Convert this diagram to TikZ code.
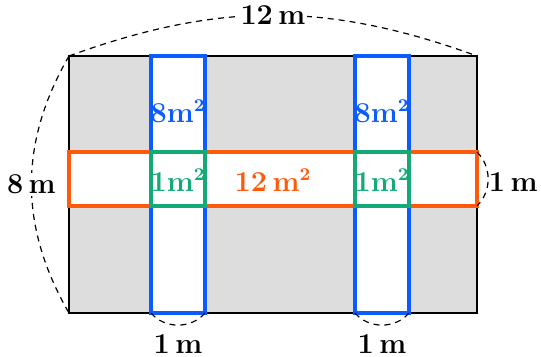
\documentclass[tikz,border=0pt]{standalone}
\usepackage{amsmath}
\begin{document}
\begin{tikzpicture}[x=0.5pt,y=-0.5pt,
  blu/.style={draw=myblue,line width=2pt},
  org/.style={draw=myorange,line width=2pt},
  grn/.style={draw=mygreen,line width=2pt},
  dim/.style={draw=black,dash pattern=on 3pt off 2.5pt,line width=0.6pt},
  lbl/.style={font=\fontsize{13.5}{15}\selectfont\bfseries\boldmath,inner sep=1pt},
  area/.style={font=\fontsize{13.5}{15}\selectfont\bfseries\boldmath,inner sep=0pt}]
\definecolor{myblue}{HTML}{0A5CFF}
\definecolor{myorange}{HTML}{FF5A0A}
\definecolor{mygreen}{HTML}{14AA78}
\definecolor{mygray}{HTML}{DDDDDD}
\useasboundingbox (0,0) rectangle (541,357);
% corners
\coordinate (TL) at (69,56);
\coordinate (TR) at (477,56);
\coordinate (BL) at (69,313);
\coordinate (BR) at (477,313);
\coordinate (OR1) at (477,152);
\coordinate (OR2) at (477,206);
\coordinate (B1a) at (151,313);
\coordinate (B1b) at (205,313);
\coordinate (B2a) at (355,313);
\coordinate (B2b) at (409,313);
% field
\fill[mygray] (TL) rectangle (BR);
\fill[white] (151,56) rectangle (205,313);
\fill[white] (355,56) rectangle (409,313);
\fill[white] (69,152) rectangle (477,206);
\draw[line width=0.75pt] (TL) rectangle (BR);
% strips
\draw[blu] (151,56) rectangle (205,313);
\draw[blu] (355,56) rectangle (409,313);
\draw[org] (69,152) rectangle (477,206);
\draw[grn] (151,152) rectangle (205,206);
\draw[grn] (355,152) rectangle (409,206);
% dimension arcs
\draw[dim] (TL) to[bend left=20] node[lbl,fill=white] (l12) {$12\,\mathrm{m}$} (TR);
\draw[dim] (TL) to[bend right=30] node[lbl,fill=white] (l8) {$8\,\mathrm{m}$} (BL);
\draw[dim] (OR1) to[bend left=45] coordinate[pos=0.5] (rmid) (OR2);
\node[lbl,anchor=east,inner sep=0pt] (l1r) at (538,182) {$1\,\mathrm{m}$};
\draw[dim] (B1a) to[bend right=50] (B1b);
\draw[dim] (B2a) to[bend right=50] (B2b);
\node[lbl] (l1b1) at (178,344) {$1\,\mathrm{m}$};
\node[lbl] (l1b2) at (382,344) {$1\,\mathrm{m}$};
% area labels
\node[area,text=myblue] (a8a) at (178,111) {$8\mathrm{m}^2$};
\node[area,text=myblue] (a8b) at (382,111) {$8\mathrm{m}^2$};
\node[area,text=mygreen] (a1a) at (178,180) {$1\mathrm{m}^2$};
\node[area,text=mygreen] (a1b) at (382,180) {$1\mathrm{m}^2$};
\node[area,text=myorange] (a12) at (273,180) {$12\,\mathrm{m}^2$};
\end{tikzpicture}
\end{document}
